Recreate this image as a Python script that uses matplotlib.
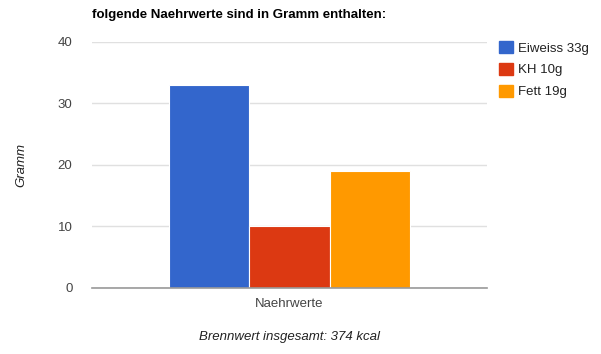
import matplotlib.pyplot as plt
import matplotlib.patches as mpatches

plt.rcParams['font.family'] = ['Liberation Sans', 'DejaVu Sans']

# data
category = 'Naehrwerte'
names = ['Eiweiss', 'KH', 'Fett']
values = [33, 10, 19]
colors = ['#3366cc', '#dc3912', '#ff9900']
yticks = [0, 10, 20, 30, 40]

fig = plt.figure(figsize=(6.01, 3.54), dpi=100)
ax = fig.add_axes([92 / 601, 66 / 354, 395 / 601, 246 / 354])

offsets = [-1, 0, 1]
handles = []
for off, name, val, col in zip(offsets, names, values, colors):
    ax.bar(off, val, width=1.0, color=col, edgecolor='white', linewidth=0.8, zorder=3)
    handles.append(mpatches.Patch(color=col, label=f'{name} {val}g'))

ax.set_xlim(-2.45, 2.45)
ax.set_ylim(0, 40)
ax.set_yticks(yticks)
ax.set_xticks([0])
ax.set_xticklabels([category])
ax.tick_params(axis='both', length=0, labelsize=9.5, labelcolor='#444444')
ax.tick_params(axis='y', pad=14)
ax.tick_params(axis='x', pad=7)
ax.grid(axis='y', color='#e0e0e0', linewidth=1, zorder=0)
for s in ['top', 'right', 'left']:
    ax.spines[s].set_visible(False)
ax.spines['bottom'].set_color('#999999')
ax.spines['bottom'].set_linewidth(1.2)
ax.spines['bottom'].set_zorder(4)

ax.set_ylabel('Gramm', fontsize=9.5, style='italic', color='#222222', labelpad=22)

fig.text(289.5 / 601, 1 - 337 / 354, 'Brennwert insgesamt: 374 kcal', fontsize=9.5,
         style='italic', color='#222222', ha='center', va='center')

fig.text(92 / 601, 1 - 15 / 354, 'folgende Naehrwerte sind in Gramm enthalten:',
         fontsize=9.5, fontweight='bold', color='#000000', va='center', ha='left')

leg = fig.legend(handles=handles, loc='upper left', bbox_to_anchor=(499 / 601, 1 - 41 / 354),
                 frameon=False, fontsize=9.5, handlelength=1.05, handleheight=1.05,
                 handletextpad=0.4, labelspacing=0.62, borderpad=0, borderaxespad=0)
for t in leg.get_texts():
    t.set_color('#222222')

fig.savefig('out.png', dpi=100)
